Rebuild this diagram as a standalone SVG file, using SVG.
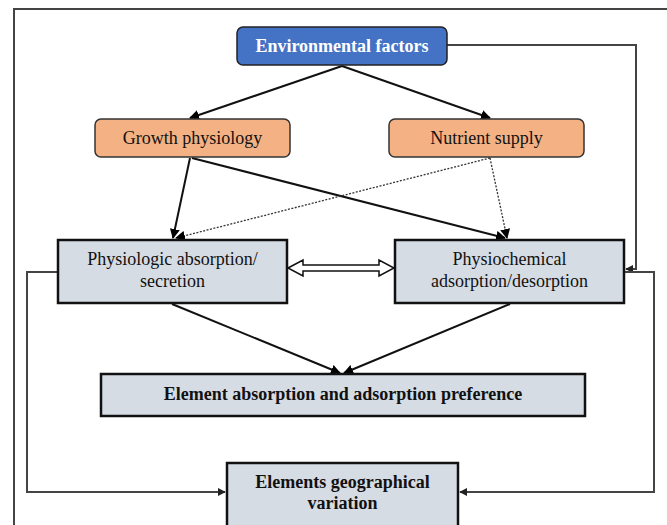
<svg xmlns="http://www.w3.org/2000/svg" width="667" height="525" viewBox="0 0 667 525">
<defs>
<marker id="ah" viewBox="0 0 10 10" refX="9" refY="5" markerWidth="10" markerHeight="10" markerUnits="userSpaceOnUse" orient="auto"><path d="M0,0 L10,5 L0,10 z" fill="#000"/></marker>
<marker id="ahs" viewBox="0 0 10 10" refX="9" refY="5" markerWidth="8" markerHeight="8" markerUnits="userSpaceOnUse" orient="auto"><path d="M0,0 L10,5 L0,10 z" fill="#222"/></marker>
</defs>
<style>
.t{font-family:"Liberation Serif","Times New Roman",serif;font-size:18px;fill:#111;text-anchor:middle}
.b{font-weight:bold}
.orange{fill:#F4B183;stroke:#333;stroke-width:1.5}
.gray{fill:#D6DCE4;stroke:#111;stroke-width:2.5}
.c{fill:none;stroke:#111;stroke-width:2}
.d{fill:none;stroke:#333;stroke-width:1.3;stroke-dasharray:2,1.5}
.f{fill:none;stroke:#444;stroke-width:2}
</style>
<rect width="667" height="525" fill="#fff"/>
<path d="M14,525 V9 H667" fill="none" stroke="#444" stroke-width="2"/>
<g id="connectors">
<line class="c" x1="342" y1="66" x2="190" y2="118" marker-end="url(#ah)"/>
<line class="c" x1="342" y1="66" x2="490" y2="118" marker-end="url(#ah)"/>
<polyline class="f" points="447,45 636,45 636,269 626,269" marker-end="url(#ahs)"/>
<polyline class="f" points="625,272 654,272 654,492 460,492" marker-end="url(#ahs)"/>
<polyline class="f" points="57,272 27,272 27,492 225,492" marker-end="url(#ahs)"/>
<line class="c" x1="190" y1="158" x2="173" y2="238" marker-end="url(#ah)"/>
<line class="c" x1="192" y1="158" x2="505" y2="238" marker-end="url(#ah)"/>
<line class="d" x1="490" y1="158" x2="176" y2="238" marker-end="url(#ah)"/>
<line class="d" x1="490" y1="158" x2="507" y2="238" marker-end="url(#ah)"/>
<path d="M288,268 L303,260 L303,265 L379,265 L379,260 L394,268 L379,276 L379,271 L303,271 L303,276 Z" fill="#fff" stroke="#111" stroke-width="1.5"/>
<line class="c" x1="172" y1="304" x2="340" y2="373" marker-end="url(#ah)"/>
<line class="c" x1="510" y1="304" x2="344" y2="373" marker-end="url(#ah)"/>
</g>
<g id="env">
<rect x="237" y="27" width="210" height="38" rx="6" fill="#4472C4" stroke="#222" stroke-width="1.5"/>
<text class="t b" x="342" y="52" style="fill:#fff">Environmental factors</text>
</g>
<g id="growth">
<rect class="orange" x="95" y="119" width="195" height="38" rx="6"/>
<text class="t" x="192.5" y="144">Growth physiology</text>
</g>
<g id="nutrient">
<rect class="orange" x="389" y="119" width="195" height="38" rx="6"/>
<text class="t" x="486.5" y="144">Nutrient supply</text>
</g>
<g id="physiologic">
<rect class="gray" x="58" y="240" width="229" height="63"/>
<text class="t" x="172.5" y="265">Physiologic absorption/</text>
<text class="t" x="172.5" y="287">secretion</text>
</g>
<g id="physiochemical">
<rect class="gray" x="395" y="240" width="229" height="63"/>
<text class="t" x="509.5" y="265">Physiochemical</text>
<text class="t" x="509.5" y="287">adsorption/desorption</text>
</g>
<g id="preference">
<rect class="gray" x="101" y="374" width="484" height="42"/>
<text class="t b" x="343" y="400">Element absorption and adsorption preference</text>
</g>
<g id="geo">
<rect class="gray" x="227" y="463" width="231" height="70"/>
<text class="t b" x="342.5" y="488">Elements geographical</text>
<text class="t b" x="342.5" y="509">variation</text>
</g>
</svg>
